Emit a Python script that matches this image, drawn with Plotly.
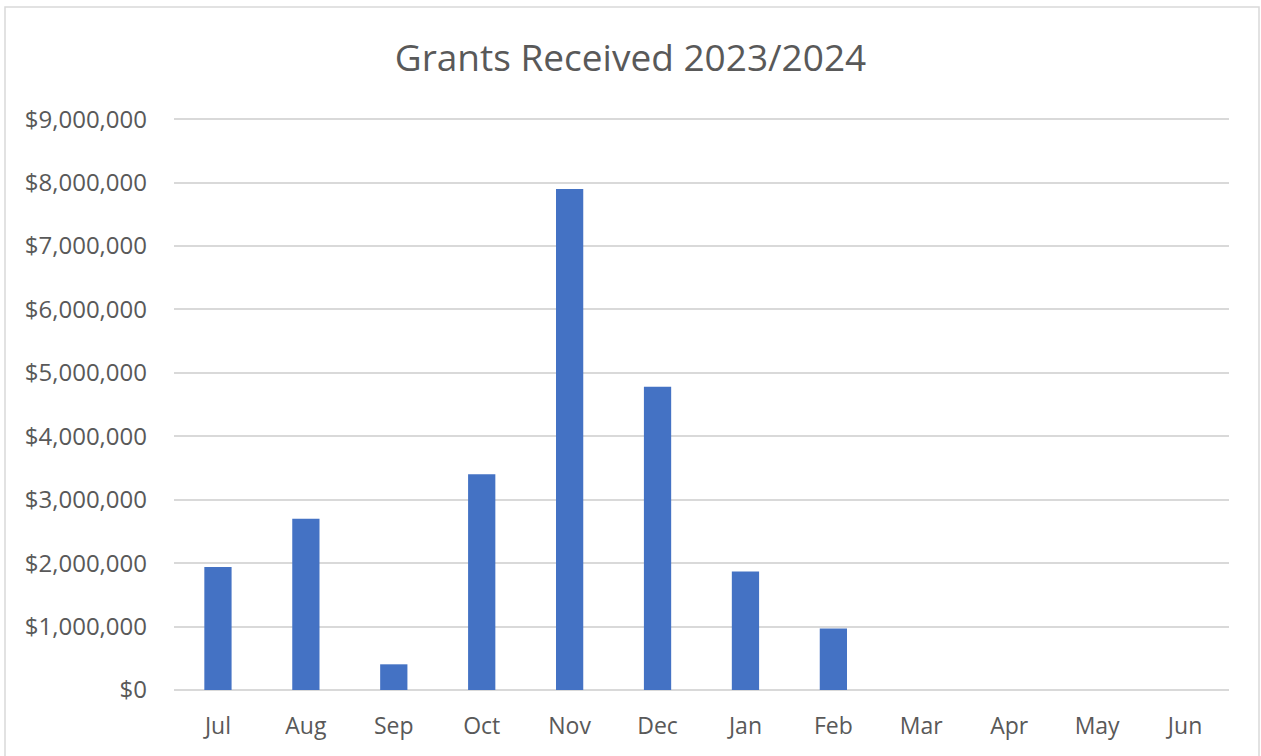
import plotly.graph_objects as go

months = ["Jul", "Aug", "Sep", "Oct", "Nov", "Dec", "Jan", "Feb", "Mar", "Apr", "May", "Jun"]
grants = [1940000, 2700000, 405000, 3400000, 7900000, 4780000, 1870000, 970000, None, None, None, None]
tick_vals = [0, 1000000, 2000000, 3000000, 4000000, 5000000, 6000000, 7000000, 8000000, 9000000]
tick_text = ["$0", "$1,000,000", "$2,000,000", "$3,000,000", "$4,000,000", "$5,000,000",
             "$6,000,000", "$7,000,000", "$8,000,000", "$9,000,000"]

W, H = 1261, 756
ml, mr, mt, mb = 174, 32, 116, 66
pw, ph = W - ml - mr, H - mt - mb

fig = go.Figure(go.Bar(x=months, y=grants, marker=dict(color="#4472c4", line=dict(width=0))))

def px2paper_x(p):
    return (p - ml) / pw

def px2paper_y(p):
    return (H - mb - p) / ph

fig.update_layout(
    width=W, height=H,
    margin=dict(l=ml, r=mr, t=mt, b=mb),
    paper_bgcolor="white", plot_bgcolor="white",
    bargap=0.69,
    showlegend=False,
    font=dict(family="Open Sans, Segoe UI, sans-serif", color="#595959", size=23),
    title=dict(text="Grants Received 2023/2024", x=0.5, xanchor="center",
               y=1 - 58 / H, yanchor="middle",
               font=dict(size=37, color="#595959")),
    xaxis=dict(showgrid=False, showline=False, ticks="", tickfont=dict(size=23),
               ticklabelstandoff=20,
               categoryorder="array", categoryarray=months),
    yaxis=dict(range=[0, 9050000], tickvals=tick_vals, ticktext=tick_text,
               showgrid=True, gridcolor="#d9d9d9", gridwidth=1.5,
               zeroline=True, zerolinecolor="#d9d9d9", zerolinewidth=1.5,
               showline=False, ticks="", ticklabelstandoff=26, tickfont=dict(size=24)),
    shapes=[dict(type="rect", xref="paper", yref="paper",
                 x0=px2paper_x(5), x1=px2paper_x(1259),
                 y0=px2paper_y(762), y1=px2paper_y(7),
                 line=dict(color="#d9d9d9", width=1.5), fillcolor="rgba(0,0,0,0)",
                 layer="below")],
)

fig.write_html("out.html")
